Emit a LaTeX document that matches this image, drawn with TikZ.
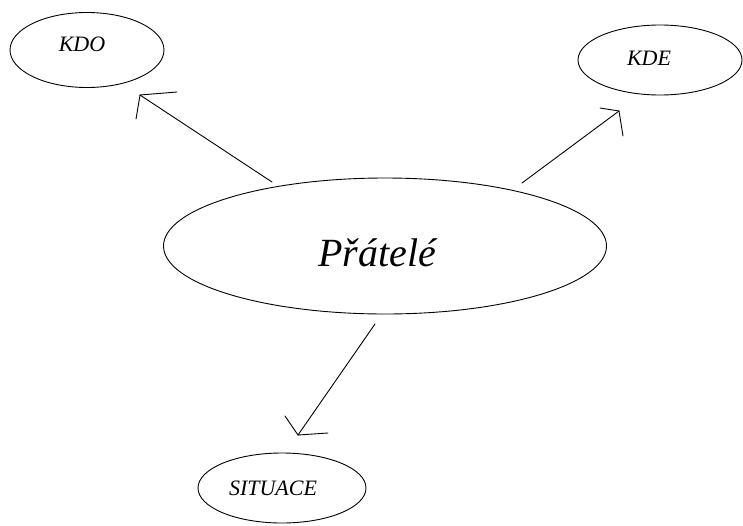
\documentclass[tikz,border=0pt]{standalone}
\usepackage{fontspec}
\setmainfont{Liberation Serif}
\usetikzlibrary{shapes.geometric}
\tikzset{
  bubble/.style={draw, ellipse, inner sep=0pt, line width=0.9pt},
  smalllabel/.style={font=\fontsize{22}{22}\selectfont\itshape, inner sep=0pt},
  biglabel/.style={font=\fontsize{40}{40}\selectfont\itshape, inner sep=0pt},
  stroke/.style={line width=0.9pt, line cap=round, line join=round}
}
\begin{document}
\begin{tikzpicture}[x=1pt, y=-1pt]
\useasboundingbox (0,0) rectangle (743,525);
\fill[white] (0,0) rectangle (743,525);
% ellipses
\node[bubble, minimum width=154, minimum height=75] (kdo) at (87,50) {};
\node[bubble, minimum width=164, minimum height=70] (kde) at (660,60) {};
\node[bubble, minimum width=443, minimum height=136] (main) at (385,246) {};
\node[bubble, minimum width=168, minimum height=70] (sit) at (282,488) {};
% texts
\node[smalllabel, anchor=base] (kdot) at ([xshift=-5,yshift=-1]kdo.center) {KDO};
\node[smalllabel, anchor=base] (kdet) at ([xshift=-11,yshift=-5]kde.center) {KDE};
\node[biglabel, anchor=base] (maint) at ([xshift=-8,yshift=-20]main.center) {Přátelé};
\node[smalllabel, anchor=base] (sitt) at ([xshift=-9,yshift=-7]sit.center) {SITUACE};
% arrow ends
\coordinate (t1) at (272,182); \coordinate (h1) at (140,95);
\coordinate (t2) at (522,183); \coordinate (h2) at (619,111);
\coordinate (t3) at (375,324); \coordinate (h3) at (298,435);
% connectors
\draw[stroke] (t1) -- (h1);
\draw[stroke] (h1) -- ++(37,-3);
\draw[stroke] (h1) -- ++(-4,24);
\draw[stroke] (t2) -- (h2);
\draw[stroke] (h2) -- ++(-19,-3);
\draw[stroke] (h2) -- ++(4,25);
\draw[stroke] (t3) -- (h3);
\draw[stroke] (h3) -- ++(-13,-19);
\draw[stroke] (h3) -- ++(30,-2);
\end{tikzpicture}
\end{document}
